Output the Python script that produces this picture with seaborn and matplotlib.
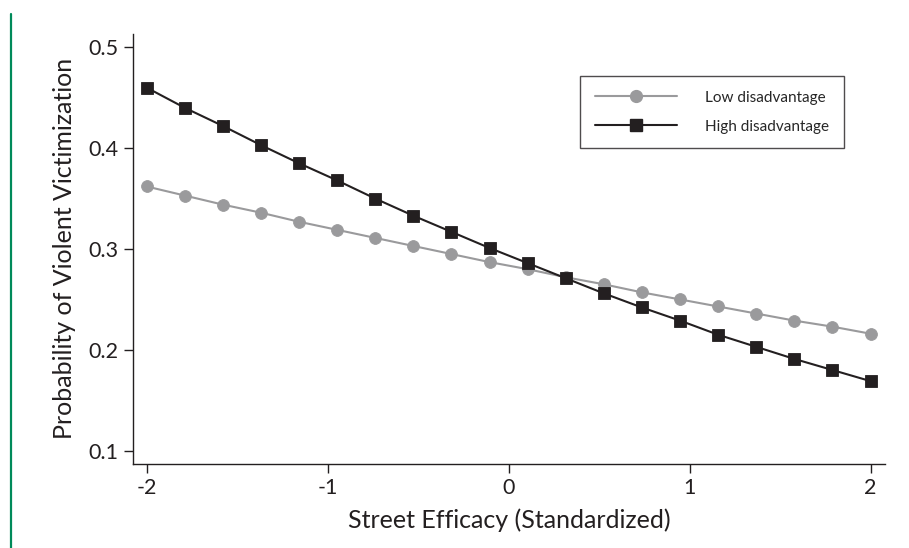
import numpy as np
import pandas as pd
import matplotlib
matplotlib.use("Agg")
import matplotlib.pyplot as plt
from matplotlib.lines import Line2D
import seaborn as sns

# ---- data ----
efficacy = np.linspace(-2, 2, 20)
low_disadvantage = [0.362, 0.353, 0.344, 0.336, 0.327, 0.319, 0.311, 0.303, 0.295, 0.287,
                    0.280, 0.272, 0.265, 0.257, 0.250, 0.243, 0.236, 0.229, 0.223, 0.216]
high_disadvantage = [0.460, 0.440, 0.422, 0.403, 0.385, 0.368, 0.350, 0.333, 0.317, 0.301,
                     0.286, 0.271, 0.256, 0.242, 0.229, 0.215, 0.203, 0.191, 0.180, 0.169]
series_names = ["Low disadvantage", "High disadvantage"]
x_ticks = [-2, -1, 0, 1, 2]
y_ticks = [0.1, 0.2, 0.3, 0.4, 0.5]

df = pd.DataFrame({
    "x": np.concatenate([efficacy, efficacy]),
    "y": low_disadvantage + high_disadvantage,
    "group": [series_names[0]] * len(efficacy) + [series_names[1]] * len(efficacy),
})

sns.set_style("ticks")
plt.rcParams["font.family"] = ["Lato", "DejaVu Sans"]

fig = plt.figure(figsize=(9.09, 5.48), dpi=100)
ax = fig.add_axes([0.1466, 0.1538, 0.9736 - 0.1466, 0.938 - 0.1538])

gray = "#9a9a9c"
black = "#231f20"
palette = {series_names[0]: gray, series_names[1]: black}
markers = {series_names[0]: "o", series_names[1]: "s"}

for name in series_names:
    sub = df[df["group"] == name]
    sns.lineplot(data=sub, x="x", y="y", ax=ax, color=palette[name],
                 marker=markers[name], markersize=8.5 if name == series_names[0] else 9,
                 markeredgecolor=palette[name], markeredgewidth=0.6,
                 linewidth=1.5, legend=False, zorder=3 if name == series_names[1] else 2)

ax.set_xlim(-2.074, 2.08)
ax.set_ylim(0.0871, 0.5132)
ax.set_xticks(x_ticks)
ax.set_xticklabels([str(t) for t in x_ticks])
ax.set_yticks(y_ticks)
ax.set_yticklabels([f"{t:.1f}" for t in y_ticks])
ax.tick_params(axis="both", direction="out", length=6.5, width=1, colors="#231f20",
               labelsize=15.5, pad=4)
for s in ["top", "right"]:
    ax.spines[s].set_visible(False)
for s in ["left", "bottom"]:
    ax.spines[s].set_color("#231f20")
    ax.spines[s].set_linewidth(1)

ax.set_xlabel("Street Efficacy (Standardized)", fontsize=18, color="#231f20", labelpad=7)
ax.set_ylabel("Probability of Violent Victimization", fontsize=18, color="#231f20", labelpad=9)

handles = [
    Line2D([], [], color=gray, marker="o", markersize=8.5, markeredgecolor=gray, linewidth=1.5),
    Line2D([], [], color=black, marker="s", markersize=9, markeredgecolor=black, linewidth=1.5),
]
leg = ax.legend(handles, series_names, loc="upper left", bbox_to_anchor=(580 / 909, 1 - 76 / 548),
                bbox_transform=fig.transFigure, fontsize=11, frameon=True, fancybox=False,
                edgecolor="#231f20", handlelength=5.4, handletextpad=1.85, borderpad=0.95,
                labelspacing=1.0, borderaxespad=0)
leg.get_frame().set_linewidth(1)

# green vertical rule at the left edge
fig.add_artist(Line2D([11 / 909, 11 / 909], [0, 1 - 14 / 548], transform=fig.transFigure,
                      color="#008a5a", linewidth=1.6))

fig.savefig("out.png", dpi=100)
